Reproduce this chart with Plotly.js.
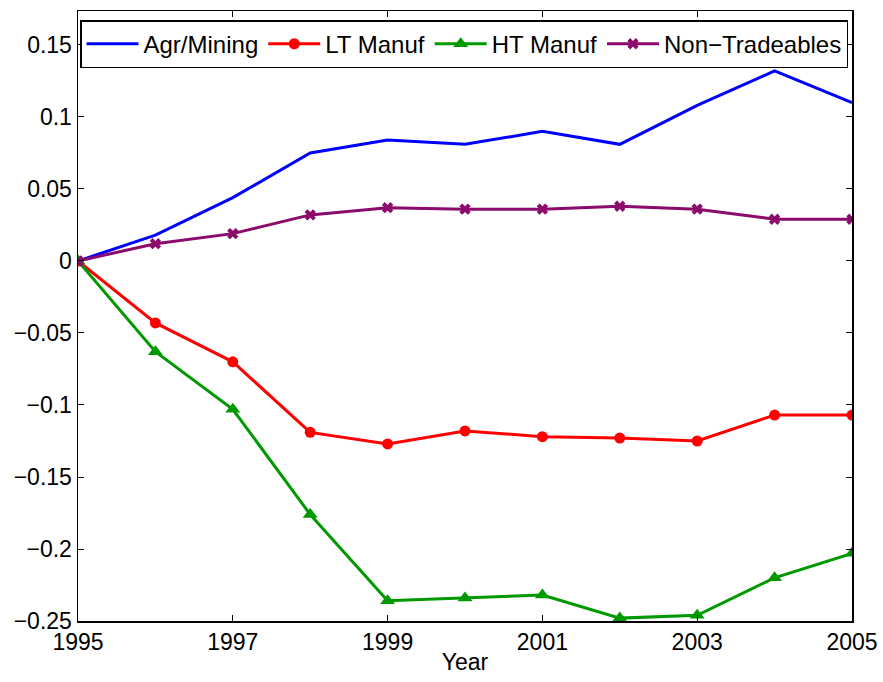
<!DOCTYPE html>
<html>
<head>
<meta charset="utf-8">
<script src="https://cdn.plot.ly/plotly-3.0.1.min.js"></script>
<style>html,body{margin:0;padding:0;background:#fff;}#chart{width:883px;height:682px;}</style>
</head>
<body>
<div id="chart"></div>
<script>
const years = [1995,1996,1997,1998,1999,2000,2001,2002,2003,2004,2005];
const agrMining = [0,0.018,0.044,0.075,0.084,0.081,0.090,0.081,0.108,0.132,0.110];
const ltManuf = [0,-0.043,-0.070,-0.119,-0.127,-0.118,-0.122,-0.123,-0.125,-0.107,-0.107];
const htManuf = [0,-0.063,-0.103,-0.176,-0.236,-0.234,-0.232,-0.248,-0.246,-0.220,-0.203];
const nonTradeables = [0,0.012,0.019,0.032,0.037,0.036,0.036,0.038,0.036,0.029,0.029];
const xTicks = [1995,1997,1999,2001,2003,2005];
const yTicks = [-0.25,-0.2,-0.15,-0.1,-0.05,0,0.05,0.1,0.15];
const yTickText = ['\u22120.25','\u22120.2','\u22120.15','\u22120.1','\u22120.05','0','0.05','0.1','0.15'];

const traces = [
  {x: years, y: agrMining, name: 'Agr/Mining', mode: 'lines', line: {color: '#0000ff', width: 3}},
  {x: years, y: ltManuf, name: 'LT Manuf', mode: 'lines+markers', line: {color: '#ff0000', width: 3}, marker: {symbol: 'circle', size: 11, color: '#ff0000'}},
  {x: years, y: htManuf, name: 'HT Manuf', mode: 'lines+markers', line: {color: '#009900', width: 3}, marker: {symbol: 'triangle-up', size: 13, color: '#009900'}},
  {x: years, y: nonTradeables, name: 'Non\u2212Tradeables', mode: 'lines+markers', line: {color: '#8b0a6b', width: 3}, marker: {symbol: 'x', size: 10, color: '#8b0a6b'}}
];

const layout = {
  width: 883, height: 682,
  margin: {l: 78, r: 31, t: 11, b: 61},
  paper_bgcolor: '#fff', plot_bgcolor: '#fff',
  font: {family: 'Liberation Sans, Arial, sans-serif', size: 23, color: '#000'},
  showlegend: true,
  legend: {orientation: 'h', x: 0.0026, y: 0.985, xanchor: 'left', yanchor: 'top',
    bordercolor: '#000', borderwidth: 1.5, bgcolor: '#fff', font: {size: 24},
    itemwidth: 52, tracegroupgap: 0},
  xaxis: {range: [1995, 2005], tickvals: xTicks, ticktext: xTicks.map(String),
    showgrid: false, zeroline: false, showline: true, linecolor: '#000', linewidth: 1.5,
    mirror: 'ticks', ticks: 'inside', ticklen: 6, tickcolor: '#000',
    title: {text: 'Year', standoff: 0, font: {size: 23}}},
  yaxis: {range: [-0.25, 0.1736], tickvals: yTicks, ticktext: yTickText,
    showgrid: false, zeroline: false, showline: true, linecolor: '#000', linewidth: 1.5,
    mirror: 'ticks', ticks: 'inside', ticklen: 6, tickcolor: '#000'}
};

Plotly.newPlot('chart', traces, layout, {displayModeBar: false, staticPlot: true});
</script>
</body>
</html>
